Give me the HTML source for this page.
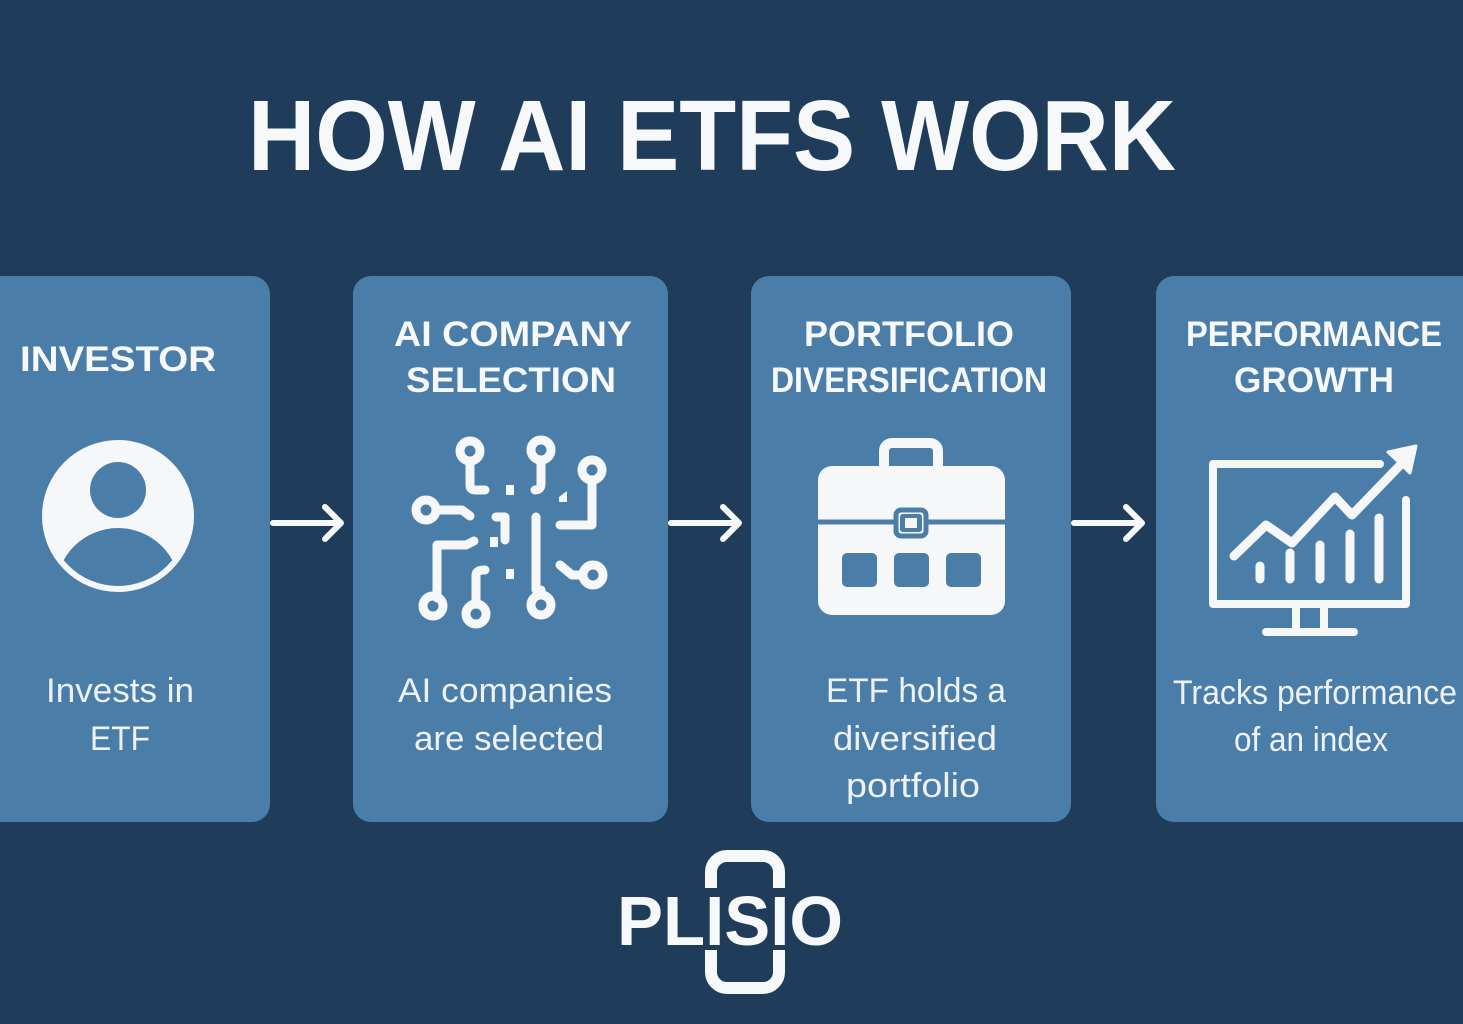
<!DOCTYPE html>
<html><head><meta charset="utf-8"><style>
html,body{margin:0;padding:0;background:#1f3d5b;}
svg{display:block;}
text{font-family:"Liberation Sans",sans-serif;}
</style></head><body>
<svg width="1463" height="1024" viewBox="0 0 1463 1024" xmlns="http://www.w3.org/2000/svg">
<defs><clipPath id="pc"><circle cx="118" cy="516" r="70"/></clipPath></defs>
<rect width="1463" height="1024" fill="#1f3d5b"/>
<text x="712" y="170" text-anchor="middle" font-size="100" font-weight="bold" fill="#f7f8f9" textLength="928" lengthAdjust="spacingAndGlyphs">HOW AI ETFS WORK</text>

<g fill="#4a7ea8">
<rect x="-20" y="276" width="290" height="546" rx="18"/>
<rect x="353" y="276" width="315" height="546" rx="18"/>
<rect x="751" y="276" width="320" height="546" rx="18"/>
<rect x="1156" y="276" width="330" height="546" rx="18"/>
</g>

<g font-weight="bold" font-size="35" fill="#f7f8f9" text-anchor="middle">
<text x="118" y="371" textLength="196" lengthAdjust="spacingAndGlyphs">INVESTOR</text>
<text x="513" y="346" textLength="238" lengthAdjust="spacingAndGlyphs">AI COMPANY</text>
<text x="511" y="392" textLength="210" lengthAdjust="spacingAndGlyphs">SELECTION</text>
<text x="909" y="346" textLength="210" lengthAdjust="spacingAndGlyphs">PORTFOLIO</text>
<text x="909" y="392" textLength="276" lengthAdjust="spacingAndGlyphs">DIVERSIFICATION</text>
<text x="1314" y="346" textLength="256" lengthAdjust="spacingAndGlyphs">PERFORMANCE</text>
<text x="1314" y="392" textLength="160" lengthAdjust="spacingAndGlyphs">GROWTH</text>
</g>

<g font-size="34" fill="#eef2f6" text-anchor="middle">
<text x="120" y="702" textLength="148" lengthAdjust="spacingAndGlyphs">Invests in</text>
<text x="120" y="750" textLength="60" lengthAdjust="spacingAndGlyphs">ETF</text>
<text x="505" y="702" textLength="214" lengthAdjust="spacingAndGlyphs">AI companies</text>
<text x="509" y="750" textLength="190" lengthAdjust="spacingAndGlyphs">are selected</text>
<text x="916" y="702" textLength="180" lengthAdjust="spacingAndGlyphs">ETF holds a</text>
<text x="915" y="750" textLength="164" lengthAdjust="spacingAndGlyphs">diversified</text>
<text x="913" y="797" textLength="134" lengthAdjust="spacingAndGlyphs">portfolio</text>
<text x="1315" y="704" textLength="284" lengthAdjust="spacingAndGlyphs">Tracks performance</text>
<text x="1311" y="751" textLength="154" lengthAdjust="spacingAndGlyphs">of an index</text>
</g>

<!-- arrows -->
<g stroke="#f7f8f9" stroke-width="6" fill="none" stroke-linecap="round" stroke-linejoin="round">
<line x1="273" y1="523" x2="340" y2="523"/><polyline points="325,507 341,523 325,539"/>
<line x1="671" y1="523" x2="738" y2="523"/><polyline points="723,507 739,523 723,539"/>
<line x1="1074" y1="523" x2="1141" y2="523"/><polyline points="1126,507 1142,523 1126,539"/>
</g>

<!-- investor icon -->
<circle cx="118" cy="516" r="76" fill="#f5f7f9"/>
<circle cx="118" cy="490" r="28" fill="#4a7ea8"/>
<g clip-path="url(#pc)"><ellipse cx="118" cy="590" rx="62" ry="62" fill="#4a7ea8"/></g>

<!-- circuit icon -->
<g stroke="#f5f7f9" stroke-width="9" fill="none" stroke-linecap="round" stroke-linejoin="round">
<circle cx="470" cy="451" r="10"/><path d="M470,461 V485 Q470,490 475,490 H485"/>
<circle cx="541" cy="450" r="10"/><path d="M541,460 V484 Q541,490 535,490"/>
<circle cx="592" cy="470" r="10"/><path d="M592,480 V525 H560"/>
<circle cx="426" cy="510" r="10"/><path d="M436,510 H462 L470,516"/>
<path d="M496,517 H505 V540"/>
<line x1="536" y1="517" x2="536" y2="590"/>
<circle cx="541" cy="605" r="10"/><path d="M541,595 V590"/>
<path d="M474,541 L466,545 H437 V598"/>
<circle cx="433" cy="606" r="10"/>
<circle cx="476" cy="614" r="10"/><path d="M476,604 V575 Q476,570 485,570"/>
<circle cx="593" cy="575" r="10"/><path d="M583,575 H572 L560,565"/>
</g>
<g fill="#f5f7f9"><rect x="506" y="485" width="8" height="10"/><rect x="490" y="537" width="8" height="10"/><rect x="506" y="569" width="8" height="10"/><path d="M559,497 L567,491 V502 H559Z"/></g>

<!-- briefcase -->
<rect x="884" y="443" width="54" height="32" rx="8" fill="none" stroke="#f5f7f9" stroke-width="10"/>
<rect x="818" y="466" width="187" height="149" rx="14" fill="#f5f7f9"/>
<line x1="818" y1="522" x2="1005" y2="522" stroke="#4a7ea8" stroke-width="5"/>
<rect x="896" y="510" width="30" height="26" rx="5" fill="#f5f7f9" stroke="#4a7ea8" stroke-width="5"/>
<rect x="900" y="514" width="22" height="18" rx="3" fill="#4a7ea8"/><rect x="905" y="518" width="12" height="10" fill="#f5f7f9"/>
<g fill="#4a7ea8"><rect x="842" y="553" width="35" height="34" rx="5"/><rect x="894" y="553" width="35" height="34" rx="5"/><rect x="946" y="553" width="35" height="34" rx="5"/></g>

<!-- monitor chart -->
<g stroke="#f5f7f9" fill="none" stroke-linecap="round" stroke-linejoin="round">
<path d="M1380,464 H1213 V604 H1406 V500" stroke-width="8"/>
<line x1="1296" y1="606" x2="1296" y2="628" stroke-width="8"/><line x1="1324" y1="606" x2="1324" y2="628" stroke-width="8"/>
<line x1="1266" y1="632" x2="1354" y2="632" stroke-width="8"/>
<polyline points="1234,556 1266,525 1292,543 1335,497 1352,515 1408,457" stroke-width="9"/>
<polygon points="1416,446 1388,452 1410,473" fill="#f5f7f9" stroke-width="3"/>
<g stroke-width="9"><line x1="1260" y1="566" x2="1260" y2="579"/><line x1="1290" y1="553" x2="1290" y2="579"/><line x1="1320" y1="545" x2="1320" y2="579"/><line x1="1350" y1="534" x2="1350" y2="579"/><line x1="1379" y1="518" x2="1379" y2="579"/></g>
</g>

<!-- logo -->
<rect x="711" y="856" width="68" height="132" rx="16" fill="none" stroke="#f7f8f9" stroke-width="12"/>
<rect x="700" y="888" width="95" height="62" fill="#1f3d5b"/>
<text x="730" y="945" text-anchor="middle" font-size="70" font-weight="bold" fill="#f7f8f9" textLength="226" lengthAdjust="spacingAndGlyphs">PLISIO</text>
</svg>
</body></html>
